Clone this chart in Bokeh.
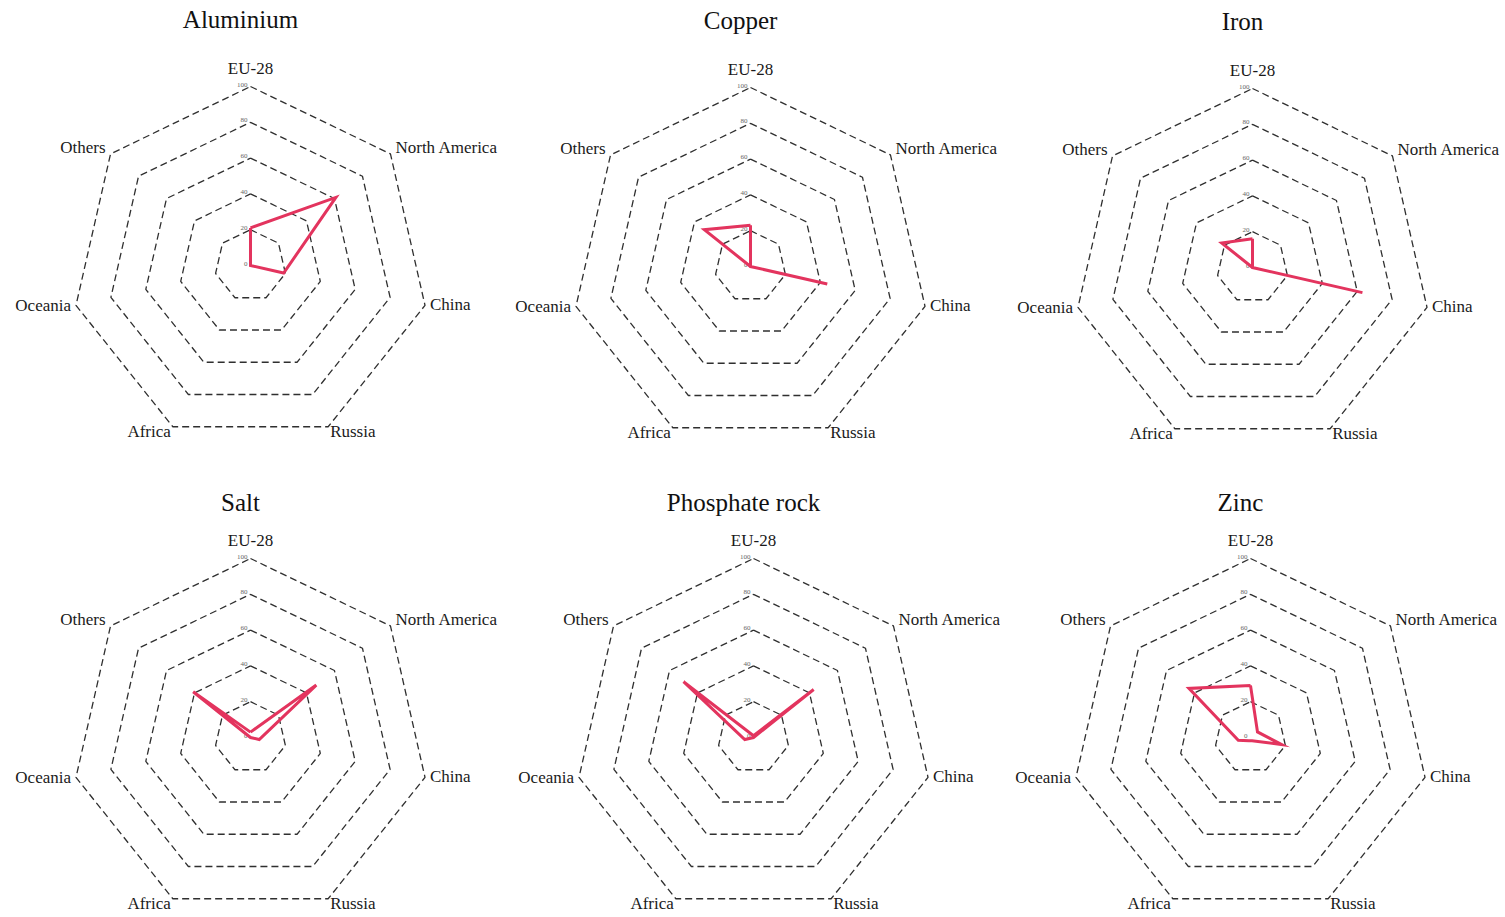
import numpy as np
from bokeh.plotting import figure
from bokeh.layouts import gridplot
from bokeh.models import Range1d
from bokeh.core.properties import value
from bokeh.embed import file_html
from bokeh.resources import INLINE

# ---------------- data ----------------
regions = ["EU-28", "North America", "China", "Russia", "Africa", "Oceania", "Others"]
ring_values = [20, 40, 60, 80, 100]
tick_values = [0, 20, 40, 60, 80, 100]
tick_labels = ["0", "20", "40", "60", "80", "100"]
titles = ["Aluminium", "Copper", "Iron", "Salt", "Phosphate rock", "Zinc"]

aluminium = [21, 61, 19, 0, 0, 0, 0]
copper = [23, 0, 44, 0, 0, 0, 33]
iron = [16, 0, 63, 0, 0, 0, 22]
salt = [3, 47, 5, 0, 0, 0, 41]
phosphate_rock = [1, 43, 0, 0, 0, 5, 50]
zinc = [29, 5, 18, 2, 2, 7, 44]
series = [aluminium, copper, iron, salt, phosphate_rock, zinc]

# ---------------- style / layout ----------------
SERIF = "Liberation Serif"
LINE_COLOR = "#e3345e"
RING_COLOR = "#2f2f2f"
SCALE = 1.79  # px per unit
WIDTHS = [500, 500, 503]
HEIGHTS = [472, 443]
# local centre (px from figure's top-left) per panel
local_centres = [(250, 265), (250, 266), (252, 267),
                 (250, 265), (253, 265), (250, 265)]
title_offsets = [-67, -67, -67, -56, -56, -56]

n = len(regions)
angles = np.deg2rad(90 - np.arange(n) * 360.0 / n)
cosA, sinA = np.cos(angles), np.sin(angles)

# label placement: (align, baseline, x_off px, y_off px)
label_style = [
    ("center", "middle", 0, -18),
    ("left", "middle", 5, -6),
    ("left", "middle", 5, -1),
    ("left", "middle", 2, 5),
    ("right", "middle", -2, 5),
    ("right", "middle", -5, 0),
    ("right", "middle", -5, -6),
]

figs = []
for i, (title, vals) in enumerate(zip(titles, series)):
    r, c = divmod(i, 3)
    H = HEIGHTS[r]
    W = WIDTHS[c]
    lx, ly = local_centres[i]
    xr = Range1d(-lx / SCALE, (W - lx) / SCALE)
    yr = Range1d(-(H - ly) / SCALE, ly / SCALE)
    p = figure(width=W, height=H, x_range=xr, y_range=yr,
               x_axis_type=None, y_axis_type=None,
               output_backend="svg", toolbar_location=None,
               min_border=0, background_fill_color="white",
               border_fill_color="white")
    p.outline_line_color = None
    p.grid.visible = False

    # rings
    xs = [list(v * np.append(cosA, cosA[0])) for v in ring_values]
    ys = [list(v * np.append(sinA, sinA[0])) for v in ring_values]
    p.multi_line(xs, ys, line_color=RING_COLOR, line_width=1.3, line_dash="7 4")

    # tick labels along the top axis
    for tv, tl in zip(tick_values, tick_labels):
        p.text(x=[0], y=[tv], text=[tl], text_font=value(SERIF),
               text_font_size="7px", text_color="#666666",
               text_align="right", text_baseline="middle",
               x_offset=-3, y_offset=-2)

    # axis labels
    for k, name in enumerate(regions):
        al, bl, xo, yo = label_style[k]
        p.text(x=[100 * cosA[k]], y=[100 * sinA[k]], text=[name],
               text_font=value(SERIF), text_font_size="17px",
               text_color="#1a1a1a", text_align=al, text_baseline=bl,
               x_offset=xo, y_offset=yo)

    # title
    p.text(x=[0], y=[100], text=[title], text_font=value(SERIF),
           text_font_size="25px", text_color="#111111",
           text_align="center", text_baseline="middle",
           x_offset=-10, y_offset=title_offsets[i])

    # data polygon
    v = np.array(vals, dtype=float)
    px = list(np.append(v * cosA, v[0] * cosA[0]))
    py = list(np.append(v * sinA, v[0] * sinA[0]))
    p.line(px, py, line_color=LINE_COLOR, line_width=3, line_join="miter")

    figs.append(p)

grid = gridplot([figs[:3], figs[3:]], toolbar_location=None)

open("out.html", "w").write(file_html(grid, INLINE))
